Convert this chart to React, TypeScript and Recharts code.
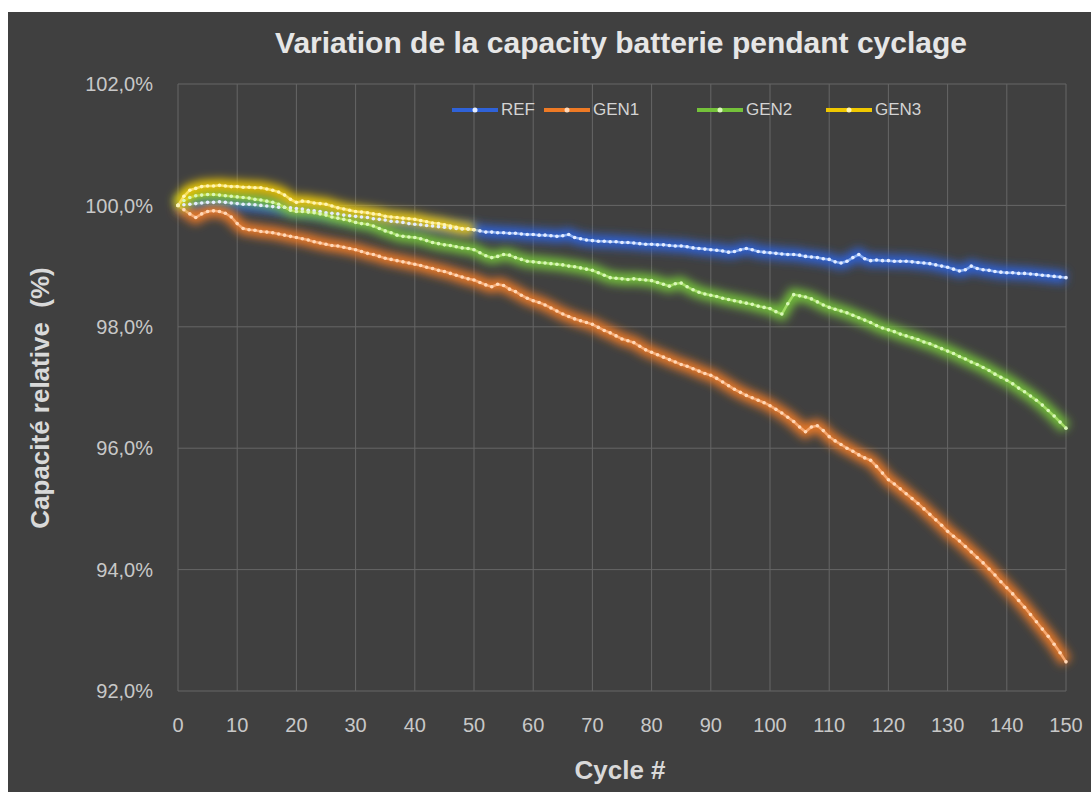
import { CartesianGrid, Legend, Line, LineChart, XAxis, YAxis } from "recharts"

// cycle numbers 0..150
const cycles = Array.from({ length: 151 }, (_, i) => i)

const refValues = [
  100.0, 100.01, 100.02, 100.03, 100.04, 100.05, 100.05, 100.06, 100.05, 100.04,
  100.03, 100.02, 100.02, 100.01, 100.0, 99.99, 99.98, 99.97, 99.97, 99.96,
  99.95, 99.94, 99.92, 99.91, 99.9, 99.88, 99.87, 99.86, 99.84, 99.83,
  99.82, 99.81, 99.8, 99.78, 99.77, 99.76, 99.74, 99.73, 99.72, 99.7,
  99.69, 99.68, 99.67, 99.66, 99.65, 99.64, 99.63, 99.62, 99.61, 99.61,
  99.6, 99.58, 99.56, 99.56, 99.55, 99.55, 99.54, 99.54, 99.53, 99.52,
  99.52, 99.51, 99.51, 99.5, 99.49, 99.5, 99.52, 99.47, 99.45, 99.43,
  99.42, 99.41, 99.41, 99.4, 99.4, 99.39, 99.39, 99.38, 99.37, 99.36,
  99.36, 99.35, 99.35, 99.34, 99.33, 99.33, 99.32, 99.3, 99.29, 99.28,
  99.27, 99.26, 99.25, 99.23, 99.24, 99.27, 99.29, 99.27, 99.24, 99.23,
  99.22, 99.21, 99.2, 99.19, 99.19, 99.18, 99.16, 99.15, 99.14, 99.12,
  99.11, 99.07, 99.05, 99.08, 99.14, 99.19, 99.12, 99.09, 99.1, 99.09,
  99.09, 99.08, 99.08, 99.08, 99.07, 99.06, 99.05, 99.04, 99.02, 99.0,
  98.98, 98.95, 98.92, 98.94, 99.0, 98.96, 98.94, 98.93, 98.91, 98.9,
  98.89, 98.89, 98.88, 98.88, 98.87, 98.86, 98.85, 98.84, 98.83, 98.82,
  98.81,
]

const gen1Values = [
  100.0, 99.93, 99.86, 99.8, 99.86, 99.9, 99.91, 99.9, 99.87, 99.81,
  99.7, 99.62, 99.6, 99.59, 99.57, 99.56, 99.55, 99.53, 99.51, 99.49,
  99.47, 99.45, 99.43, 99.4, 99.38, 99.36, 99.34, 99.33, 99.31, 99.29,
  99.27, 99.24, 99.21, 99.19, 99.16, 99.13, 99.11, 99.09, 99.07, 99.05,
  99.03, 99.01, 98.98, 98.96, 98.93, 98.91, 98.88, 98.85, 98.82, 98.79,
  98.77, 98.73, 98.69, 98.66, 98.7, 98.68, 98.62, 98.58, 98.52, 98.47,
  98.43, 98.4, 98.36, 98.31, 98.26, 98.21, 98.17, 98.13, 98.1, 98.07,
  98.04, 97.99, 97.94, 97.9, 97.85, 97.8, 97.77, 97.74, 97.68, 97.62,
  97.58, 97.54, 97.5, 97.46, 97.42, 97.38, 97.35, 97.31, 97.27, 97.23,
  97.2, 97.15, 97.09, 97.03, 96.97, 96.92, 96.87, 96.83, 96.79, 96.75,
  96.7, 96.64, 96.58, 96.51, 96.44, 96.35, 96.27, 96.35, 96.37, 96.29,
  96.19, 96.12, 96.06, 96.0, 95.95, 95.89, 95.84, 95.8, 95.7, 95.59,
  95.48, 95.41, 95.33, 95.25, 95.17, 95.09, 95.0, 94.91, 94.82, 94.73,
  94.63, 94.55, 94.47, 94.38, 94.29, 94.2, 94.11, 94.01, 93.91, 93.8,
  93.7, 93.6, 93.49, 93.38, 93.26, 93.14, 93.02, 92.9, 92.77, 92.63,
  92.48,
]

const gen2Values = [
  100.0, 100.08, 100.13, 100.16, 100.17, 100.18, 100.18, 100.17, 100.16, 100.15,
  100.14, 100.13, 100.12, 100.1, 100.09, 100.07, 100.05, 100.02, 99.97, 99.92,
  99.9, 99.9, 99.89, 99.88, 99.86, 99.84, 99.81, 99.79, 99.77, 99.75,
  99.72, 99.7, 99.69, 99.66, 99.62, 99.58, 99.55, 99.51, 99.49, 99.48,
  99.47, 99.45, 99.42, 99.39, 99.37, 99.35, 99.34, 99.32, 99.3, 99.29,
  99.27, 99.22, 99.17, 99.14, 99.16, 99.19, 99.18, 99.14, 99.11, 99.08,
  99.07, 99.06, 99.05, 99.04, 99.03, 99.02, 99.0, 98.99, 98.97, 98.95,
  98.93, 98.89, 98.85, 98.81, 98.8, 98.79, 98.78, 98.79, 98.78, 98.77,
  98.76, 98.73, 98.7, 98.67, 98.71, 98.72, 98.66, 98.61, 98.57, 98.54,
  98.52, 98.5, 98.47, 98.45, 98.43, 98.41, 98.39, 98.37, 98.34, 98.32,
  98.3, 98.25, 98.21, 98.38, 98.53, 98.51, 98.49, 98.46, 98.41, 98.36,
  98.32, 98.29, 98.26, 98.23, 98.19, 98.15, 98.11, 98.07, 98.02, 97.98,
  97.95, 97.92, 97.88, 97.85, 97.82, 97.79, 97.75, 97.72, 97.68, 97.64,
  97.6, 97.56, 97.51, 97.47, 97.42, 97.38, 97.33, 97.28, 97.22, 97.17,
  97.12, 97.06, 96.99, 96.93, 96.86, 96.79, 96.71, 96.62, 96.53, 96.43,
  96.33,
]

// GEN3 only runs to cycle 50
const gen3Values = [
  100.0, 100.15, 100.25, 100.28, 100.31, 100.32, 100.32, 100.33, 100.32, 100.31,
  100.31, 100.3, 100.3, 100.29, 100.29, 100.27, 100.25, 100.22, 100.17, 100.1,
  100.05, 100.07, 100.06, 100.04, 100.03, 100.02, 99.99, 99.96, 99.94, 99.92,
  99.9, 99.89, 99.88, 99.86, 99.85, 99.82, 99.81, 99.8, 99.79, 99.78,
  99.77, 99.75, 99.73, 99.71, 99.7, 99.68, 99.66, 99.64, 99.62, 99.61,
  99.6,
]

const xTicks = [0, 10, 20, 30, 40, 50, 60, 70, 80, 90, 100, 110, 120, 130, 140, 150]
const yTicks = [92, 94, 96, 98, 100, 102]

const series = [
  { key: "REF", line: "#86acf0", dot: "#e4ecff", glow: "#2f62d8" },
  { key: "GEN1", line: "#f6a870", dot: "#ffd8b8", glow: "#ee7a25" },
  { key: "GEN2", line: "#a2dc64", dot: "#daf7ba", glow: "#74c23a" },
  { key: "GEN3", line: "#f8e060", dot: "#fff5b5", glow: "#f0c800" },
]

const data = cycles.map((c, i) => ({
  cycle: c,
  REF: refValues[i],
  GEN1: gen1Values[i],
  GEN2: gen2Values[i],
  GEN3: i < gen3Values.length ? gen3Values[i] : undefined,
}))

const font = "'Liberation Sans', Arial, sans-serif"
const legendLeft = [443, 535, 688, 817]

function ChartLegend() {
  return (
    <div style={{ position: "relative", height: 20, width: 1083 }}>
      {series.map((s, i) => (
        <div
          key={s.key}
          style={{ position: "absolute", left: legendLeft[i], top: 0, display: "flex", alignItems: "center" }}
        >
          <svg width={48} height={20}>
            <line x1={1} y1={10} x2={47} y2={10} stroke={s.glow} strokeWidth={4} />
            <circle cx={24} cy={10} r={2.5} fill={s.dot} />
          </svg>
          <span style={{ color: "#d4d4d4", fontSize: 17, fontFamily: font, marginLeft: 2 }}>{s.key}</span>
        </div>
      ))}
    </div>
  )
}

export default function App() {
  return (
    <div style={{ position: "absolute", left: 8, top: 12, width: 1083, height: 780, background: "#404040" }}>
      <div
        style={{
          position: "absolute", left: 613, top: 31, transform: "translate(-50%, -50%)",
          color: "#e6e6e6", fontSize: 30, fontWeight: "bold", whiteSpace: "nowrap", fontFamily: font,
        }}
      >
        Variation de la capacity batterie pendant cyclage
      </div>
      <div
        style={{
          position: "absolute", left: 32, top: 386, transform: "translate(-50%, -50%) rotate(-90deg)",
          color: "#d9d9d9", fontSize: 26, fontWeight: "bold", whiteSpace: "pre", fontFamily: font,
        }}
      >
        Capacité relative  (%)
      </div>
      <div
        style={{
          position: "absolute", left: 612, top: 758, transform: "translate(-50%, -50%)",
          color: "#d9d9d9", fontSize: 26, fontWeight: "bold", whiteSpace: "nowrap", fontFamily: font,
        }}
      >
        Cycle #
      </div>
      <LineChart
        width={1083}
        height={772}
        data={data}
        margin={{ top: 72, right: 25, left: 0, bottom: 33 }}
        style={{ position: "absolute", left: 0, top: 0 }}
      >
        <defs>
          <filter id="glow" filterUnits="userSpaceOnUse" x={0} y={0} width={1083} height={772}>
            <feGaussianBlur stdDeviation={5} />
          </filter>
        </defs>
        <CartesianGrid stroke="#666666" strokeWidth={1} />
        <XAxis
          dataKey="cycle"
          type="number"
          domain={[0, 150]}
          ticks={xTicks}
          height={60}
          axisLine={false}
          tickLine={false}
          tickSize={0}
          tickMargin={27}
          tick={{ fill: "#c8c8c8", fontSize: 20, fontFamily: font }}
        />
        <YAxis
          type="number"
          domain={[92, 102]}
          ticks={yTicks}
          width={170}
          axisLine={false}
          tickLine={false}
          tickSize={0}
          tickMargin={25}
          tickFormatter={(v: number) => v.toFixed(1).replace(".", ",") + "%"}
          tick={{ fill: "#c8c8c8", fontSize: 20, fontFamily: font }}
        />
        <Legend
          verticalAlign="middle"
          layout="horizontal"
          wrapperStyle={{ top: 88, left: 0 }}
          content={() => <ChartLegend />}
        />
        {series.flatMap((s) => [
          <Line
            key={s.key + "-glow"}
            dataKey={s.key}
            stroke={s.glow}
            strokeWidth={12}
            strokeOpacity={1}
            filter="url(#glow)"
            dot={false}
            activeDot={false}
            legendType="none"
            isAnimationActive={false}
          />,
          <Line
            key={s.key}
            dataKey={s.key}
            name={s.key}
            stroke={s.line}
            strokeWidth={2.5}
            dot={{ r: 1.8, fill: s.dot, stroke: "none" }}
            activeDot={false}
            isAnimationActive={false}
          />,
        ])}
      </LineChart>
    </div>
  )
}
